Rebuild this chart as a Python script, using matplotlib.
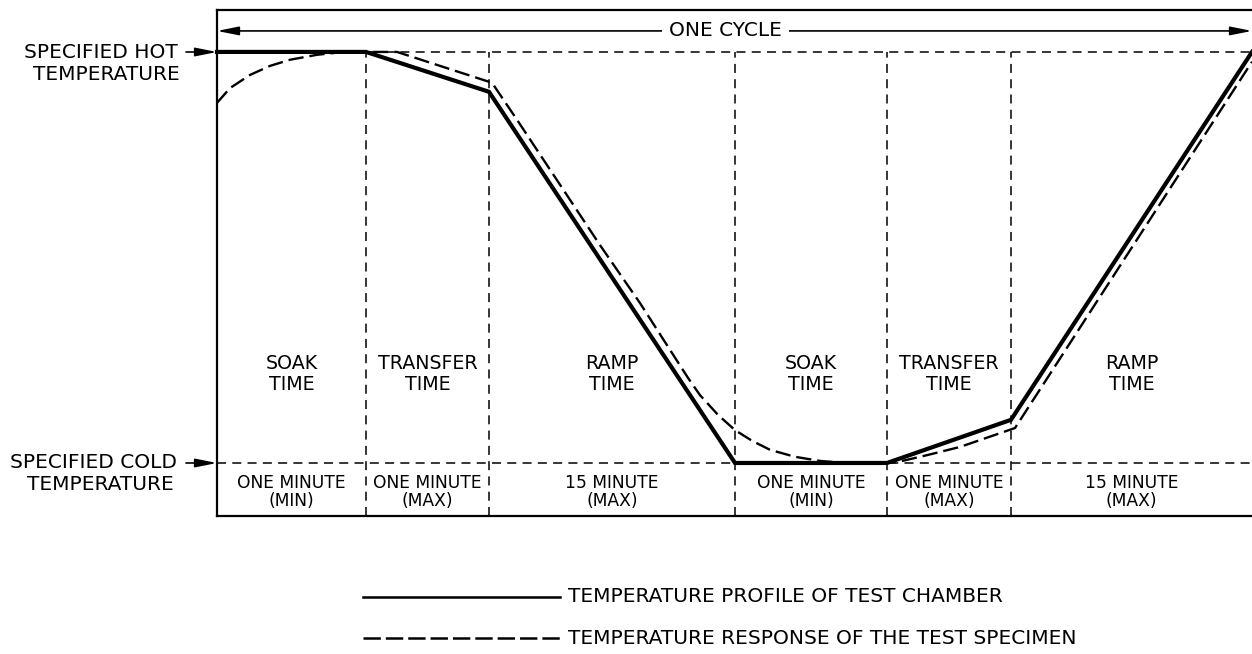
import matplotlib
matplotlib.use("Agg")
import matplotlib.pyplot as plt

plt.rcParams['font.family'] = ['DejaVu Sans']
plt.rcParams['lines.scale_dashes'] = False

# ---------------- data ----------------
HOT, COLD = 1.0, 0.0
phase_bounds = [0, 149, 272, 518, 670, 794, 1035]
phase_names = ["SOAK\nTIME", "TRANSFER\nTIME", "RAMP\nTIME",
               "SOAK\nTIME", "TRANSFER\nTIME", "RAMP\nTIME"]
duration_line1 = ["ONE MINUTE", "ONE MINUTE", "15 MINUTE",
                  "ONE MINUTE", "ONE MINUTE", "15 MINUTE"]
duration_line2 = ["(MIN)", "(MAX)", "(MAX)", "(MIN)", "(MAX)", "(MAX)"]

chamber_time = [0, 149, 272, 518, 670, 794, 1035]
chamber_temp = [1.0, 1.0, 0.903, 0.0, 0.0, 0.105, 1.0]

specimen_time = [0, 13, 33, 53, 73, 100, 123, 149, 180, 275, 300, 383, 423,
                 471, 483, 501, 518, 535, 553, 578, 603, 628, 670, 680, 710,
                 743, 798, 1035]
specimen_temp = [0.876, 0.912, 0.944, 0.966, 0.981, 0.993, 0.999, 1.0, 1.0,
                 0.925, 0.835, 0.530, 0.389, 0.207, 0.165, 0.117, 0.080,
                 0.054, 0.032, 0.015, 0.005, 0.0, 0.0, 0.002, 0.019, 0.039,
                 0.085, 0.976]

legend_labels = ["TEMPERATURE PROFILE OF TEST CHAMBER",
                 "TEMPERATURE RESPONSE OF THE TEST SPECIMEN"]
hot_label = ["SPECIFIED HOT", "TEMPERATURE"]
cold_label = ["SPECIFIED COLD", "TEMPERATURE"]
cycle_label = "ONE CYCLE"

# ---------------- figure ----------------
W, H = 1252, 654
fig = plt.figure(figsize=(W / 100, H / 100), dpi=100)

YMIN, YMAX = -0.129, 1.102
ax = fig.add_axes([217 / W, (H - 516) / H, (W - 217) / W, (516 - 10) / H])
ax.set_xlim(phase_bounds[0], phase_bounds[-1])
ax.set_ylim(YMIN, YMAX)
ax.set_xticks([])
ax.set_yticks([])
ax.spines['right'].set_visible(False)
for s in ['top', 'left', 'bottom']:
    ax.spines[s].set_linewidth(1.6)

ref_dash = (6.5, 4.5)
ARROW = '-|>,head_length=0.65,head_width=0.13'
ARROW2 = '<|-|>,head_length=0.65,head_width=0.13'

# reference levels
ax.plot([phase_bounds[0], phase_bounds[-1]], [HOT, HOT], color='k', lw=1.1,
        dashes=ref_dash, clip_on=False)
ax.plot([phase_bounds[0], phase_bounds[-1]], [COLD, COLD], color='k', lw=1.1,
        dashes=ref_dash, clip_on=False)
# phase dividers
for b in phase_bounds[1:-1]:
    ax.plot([b, b], [YMIN, HOT], color='k', lw=1.1, dashes=ref_dash)

# curves
ax.plot(chamber_time, chamber_temp, color='k', lw=3.0, clip_on=False,
        solid_joinstyle='miter', zorder=4)
ax.plot(specimen_time, specimen_temp, color='k', lw=1.7, dashes=(11, 4.3),
        clip_on=False, zorder=4)


def temp_of(py):
    return (463 - py) / 411


# phase labels
for i, name in enumerate(phase_names):
    mid = (phase_bounds[i] + phase_bounds[i + 1]) / 2
    ax.text(mid, temp_of(374), name, ha='center', va='center', fontsize=13.7,
            linespacing=1.15)
    ax.text(mid, temp_of(483), duration_line1[i], ha='center', va='center',
            fontsize=12.3)
    ax.text(mid, temp_of(501), duration_line2[i], ha='center', va='center',
            fontsize=12.3)

# one cycle arrow
yc = temp_of(31)
ax.annotate('', xy=(phase_bounds[0], yc), xytext=(phase_bounds[-1], yc),
            arrowprops=dict(arrowstyle=ARROW2, color='k', lw=1.2,
                            mutation_scale=20, shrinkA=0, shrinkB=0),
            annotation_clip=False)
ax.text((phase_bounds[0] + phase_bounds[-1]) / 2 - 9, yc, cycle_label,
        ha='center', va='center', fontsize=14.5,
        bbox=dict(facecolor='white', edgecolor='none', pad=5))

# overlay in pixel coordinates for outside annotations
ov = fig.add_axes([0, 0, 1, 1])
ov.set_xlim(0, W)
ov.set_ylim(H, 0)
ov.axis('off')
ov.patch.set_visible(False)

LFS = 14.5
ov.text(101, 53, hot_label[0], ha='center', va='center', fontsize=LFS)
ov.text(106, 74, hot_label[1], ha='center', va='center', fontsize=LFS)
ov.annotate('', xy=(217, 52), xytext=(186, 52),
            arrowprops=dict(arrowstyle=ARROW, color='k', lw=1.2,
                            mutation_scale=20, shrinkA=0, shrinkB=0))
ov.text(94, 463, cold_label[0], ha='center', va='center', fontsize=LFS)
ov.text(100, 485, cold_label[1], ha='center', va='center', fontsize=LFS)
ov.annotate('', xy=(217, 463), xytext=(186, 463),
            arrowprops=dict(arrowstyle=ARROW, color='k', lw=1.2,
                            mutation_scale=20, shrinkA=0, shrinkB=0))

# legend
ov.plot([363, 560], [597, 597], color='k', lw=1.8)
ov.text(568, 597, legend_labels[0], ha='left', va='center', fontsize=LFS)
ov.plot([363, 560], [638, 638], color='k', lw=1.8, dashes=(12.5, 3.6))
ov.text(568, 638, legend_labels[1], ha='left', va='center', fontsize=LFS)

fig.savefig('out.png', dpi=100, facecolor='white')
